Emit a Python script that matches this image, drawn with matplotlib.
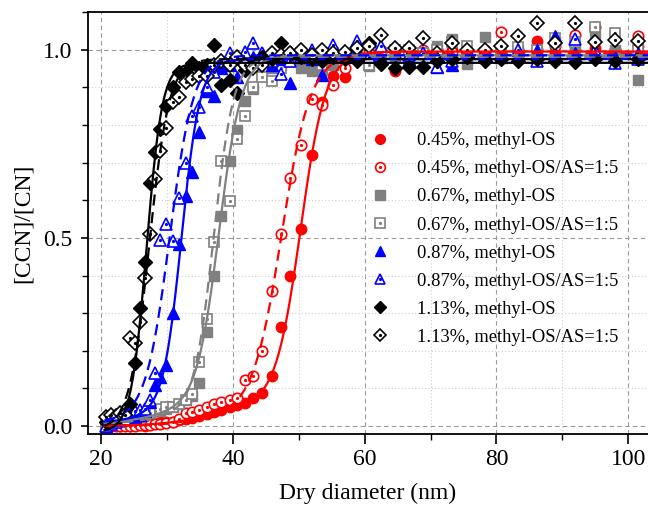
import matplotlib
matplotlib.use('Agg')
import matplotlib.pyplot as plt
from matplotlib.lines import Line2D
from matplotlib.legend_handler import HandlerTuple
from matplotlib.ticker import MultipleLocator, FormatStrFormatter
import numpy as np

plt.rcParams['font.family'] = ['Liberation Serif', 'DejaVu Serif']

# dry diameters of the scan (nm)
diameter = [20.8, 21.5, 22.2, 22.9, 23.6, 24.4, 25.2, 25.9, 26.7, 27.4,
            28.2, 29.0, 29.9, 30.9, 31.8, 32.8, 33.8, 34.9, 36.0, 37.1,
            38.2, 39.5, 40.6, 41.8, 43.1, 44.4, 45.9, 47.3, 48.7, 50.3,
            52.0, 53.5, 55.2, 57.0, 58.8, 60.6, 62.5, 64.6, 66.7, 68.8,
            70.9, 73.3, 75.6, 78.2, 80.7, 83.3, 86.1, 88.9, 91.9, 95.0,
            98.0, 101.5]

# activated fraction [CCN]/[CN]
red_os = [0.0, 0.0, 0.005, 0.0, 0.005, 0.0, 0.005, 0.005, 0.0, 0.005,
          0.008, 0.01, 0.01, 0.012, 0.015, 0.02, 0.022, 0.028, 0.032, 0.038,
          0.043, 0.05, 0.055, 0.061, 0.074, 0.087, 0.134, 0.263, 0.40, 0.523,
          0.719, 0.86, 0.929, 0.927, 0.985, 0.995, 1.0, 0.942, 1.0, 0.99,
          1.0, 1.0, 0.995, 1.0, 0.99, 1.0, 1.022, 0.99, 1.0, 1.005,
          1.0, 1.01]
red_as = [0.0, 0.0, 0.0, 0.0, 0.0, 0.0, 0.0, 0.002, 0.003, 0.003,
          0.005, 0.005, 0.008, 0.012, 0.02, 0.034, 0.038, 0.043, 0.05, 0.059,
          0.064, 0.069, 0.074, 0.122, 0.133, 0.2, 0.36, 0.51, 0.659, 0.747,
          0.869, 0.853, 0.906, 0.95, 0.975, 0.99, 0.995, 1.0, 0.99, 1.0,
          1.0, 0.995, 1.0, 0.995, 1.046, 1.0, 1.0, 1.01, 1.04, 1.06,
          1.0, 1.035]
gray_os = [0.005, 0.01, 0.01, 0.015, 0.015, 0.02, 0.02, 0.025, 0.03, 0.035,
           0.04, 0.04, 0.045, 0.05, 0.06, 0.069, 0.08, 0.115, 0.25, 0.40,
           0.557, 0.705, 0.787, 0.864, 0.895, 0.93, 0.95, 0.96, 0.97, 0.95,
           0.942, 0.947, 0.96, 0.98, 0.99, 0.957, 0.99, 0.98, 1.0, 0.99,
           1.01, 1.028, 0.963, 1.034, 0.99, 1.0, 0.99, 1.02, 1.0, 1.04,
           1.0, 0.92]
gray_as = [0.005, 0.005, 0.01, 0.01, 0.015, 0.02, 0.02, 0.025, 0.03, 0.035,
           0.04, 0.045, 0.05, 0.051, 0.06, 0.07, 0.085, 0.171, 0.285, 0.488,
           0.705, 0.597, 0.762, 0.825, 0.90, 0.927, 0.916, 0.95, 0.98, 0.99,
           0.975, 0.96, 0.99, 0.985, 1.0, 0.958, 0.99, 1.0, 1.0, 0.99,
           1.0, 1.02, 1.01, 0.99, 1.0, 1.007, 1.0, 1.03, 1.02, 1.06,
           1.044, 1.0]
blue_os = [0.0, 0.01, 0.015, 0.015, 0.02, 0.02, 0.025, 0.03, 0.04, 0.065,
           0.11, 0.13, 0.162, 0.30, 0.484, 0.61, 0.676, 0.78, 0.889, 0.878,
           0.95, 0.96, 0.927, 0.97, 0.98, 0.99, 0.96, 0.975, 0.911, 0.98,
           0.975, 0.933, 0.99, 0.98, 1.0, 0.985, 0.98, 0.99, 0.975, 0.99,
           0.955, 0.96, 1.0, 0.99, 0.98, 1.0, 1.0, 1.035, 0.99, 1.0,
           0.98, 0.99]
blue_as = [0.0, 0.005, 0.01, 0.015, 0.02, 0.038, 0.04, 0.043, 0.045, 0.07,
           0.142, 0.495, 0.537, 0.493, 0.606, 0.70, 0.824, 0.848, 0.90, 0.94,
           0.97, 0.99, 0.975, 0.995, 1.018, 0.99, 0.97, 0.936, 0.97, 0.98,
           1.0, 0.99, 1.013, 0.99, 1.022, 0.98, 1.009, 0.99, 0.985, 0.99,
           0.955, 0.97, 0.99, 1.0, 0.98, 1.0, 0.969, 0.99, 1.028, 1.0,
           0.965, 0.975]
black_os = [0.01, 0.02, 0.02, 0.025, 0.03, 0.058, 0.167, 0.315, 0.437, 0.645,
            0.727, 0.79, 0.851, 0.90, 0.94, 0.94, 0.965, 0.95, 0.96, 1.013,
            0.907, 0.92, 0.885, 0.947, 0.97, 0.98, 0.975, 1.018, 0.99, 0.98,
            0.975, 0.97, 0.98, 0.975, 0.969, 1.018, 0.963, 0.952, 0.955, 0.955,
            0.97, 0.975, 0.98, 0.97, 0.975, 0.97, 0.975, 0.97, 0.968, 0.975,
            0.97, 0.975]
black_as = [0.025, 0.03, 0.028, 0.035, 0.03, 0.233, 0.222, 0.277, 0.393, 0.51,
            0.656, 0.731, 0.793, 0.862, 0.873, 0.914, 0.922, 0.929, 0.931, 0.96,
            0.97, 0.96, 0.98, 0.96, 0.95, 0.96, 0.99, 0.985, 0.99, 1.0,
            0.985, 1.0, 0.99, 0.995, 1.005, 1.01, 1.04, 1.005, 1.005, 1.03,
            0.99, 1.018, 1.0, 1.0, 1.01, 1.035, 1.07, 1.018, 1.07, 1.02,
            1.025, 1.022]

labels = ['0.45%, methyl-OS', '0.45%, methyl-OS/AS=1:5',
          '0.67%, methyl-OS', '0.67%, methyl-OS/AS=1:5',
          '0.87%, methyl-OS', '0.87%, methyl-OS/AS=1:5',
          '1.13%, methyl-OS', '1.13%, methyl-OS/AS=1:5']
values = [red_os, red_as, gray_os, gray_as, blue_os, blue_as, black_os, black_as]
colors = ['#ff0000', '#ff0000', '#808080', '#808080',
          '#0000ff', '#0000ff', '#000000', '#000000']
markers = ['o', 'o', 's', 's', '^', '^', 'D', 'D']
filled = [True, False, True, False, True, False, True, False]
msize = {'o': 7.5, 's': 7, '^': 8, 'D': 7}

# sigmoid fit parameters
fit_d50 = [50.3, 47.4, 37.9, 37.1, 32.2, 30.4, 26.9, 27.3]
fit_width = [1.9, 2.2, 1.7, 1.5, 1.4, 1.8, 1.18, 1.5]
fit_top = [0.995, 0.99, 0.985, 0.98, 0.975, 0.985, 0.965, 0.975]
fit_base = [0.0, 0.0, 0.005, 0.005, 0.01, 0.01, -0.015, -0.01]
tail_amp = [0.06, 0.03, 0.05, 0.03, 0.02, 0.01, 0.0, 0.0]
tail_mid = [37, 34, 29, 28, 25, 24, 24, 24]
tail_width = [4, 3, 3.5, 3, 2, 2, 2, 2]


def sigmoid(d, mid, w):
    return 1.0 / (1.0 + np.exp(-(d - mid) / w))


fig = plt.figure(figsize=(6.48, 5.09), dpi=100)
ax = fig.add_axes([88/648, 1 - 434/509, 560/648, 422/509])

handles = []
for i in range(8):
    m = markers[i]
    if filled[i]:
        ax.plot(diameter, values[i], ls='none', marker=m, ms=msize[m],
                mfc=colors[i], mec=colors[i], zorder=3)
        handles.append(Line2D([], [], ls='none', marker=m, ms=msize[m] - 0.5,
                              mfc=colors[i], mec=colors[i]))
    else:
        ax.plot(diameter, values[i], ls='none', marker=m, ms=msize[m],
                mfc='white', mec=colors[i], mew=1.2, zorder=3)
        ax.plot(diameter, values[i], ls='none', marker='o', ms=1.3,
                mfc=colors[i], mec=colors[i], zorder=3)
        h1 = Line2D([], [], ls='none', marker=m, ms=msize[m] - 0.5,
                    mfc='white', mec=colors[i], mew=1.2)
        h2 = Line2D([], [], ls='none', marker='o', ms=1.3,
                    mfc=colors[i], mec=colors[i])
        handles.append((h1, h2))

dfit = np.linspace(20.5, 103, 400)
for i in range(8):
    s1 = sigmoid(dfit, fit_d50[i], fit_width[i])
    s2 = sigmoid(dfit, tail_mid[i], tail_width[i])
    y = fit_base[i] + (fit_top[i] - fit_base[i]) * s1 + tail_amp[i] * s2 * (1 - s1)
    ls = '-' if filled[i] else (0, (5, 3))
    ax.plot(dfit, y, color=colors[i], ls=ls, lw=1.6, zorder=4)

ax.set_xlim(18, 103)
ax.set_ylim(-0.021, 1.1)
ax.xaxis.set_major_locator(MultipleLocator(20))
ax.xaxis.set_minor_locator(MultipleLocator(10))
ax.yaxis.set_major_locator(MultipleLocator(0.5))
ax.yaxis.set_minor_locator(MultipleLocator(0.1))
ax.yaxis.set_major_formatter(FormatStrFormatter('%.1f'))

ax.set_axisbelow(True)
ax.grid(which='major', color='#9a9a9a', ls=(0, (4, 3)), lw=0.8)
ax.grid(which='minor', color='#cfcfcf', ls=(0, (1, 2)), lw=0.8)

ax.tick_params(axis='x', which='major', direction='out', length=7, width=1.2,
               labelsize=17, pad=4)
ax.tick_params(axis='y', which='major', direction='out', length=5, width=1.2,
               labelsize=17, pad=6)
ax.tick_params(which='minor', direction='out', length=4, width=1.0)
for sp in ['left', 'bottom', 'top']:
    ax.spines[sp].set_linewidth(1.3)
ax.spines['right'].set_visible(False)

ax.set_xlabel('Dry diameter (nm)', fontsize=17, labelpad=9)
ax.set_ylabel('[CCN]/[CN]', fontsize=17, labelpad=7)

ax.legend(handles, labels, handler_map={tuple: HandlerTuple(ndivide=1)},
          loc='upper left', bbox_to_anchor=(0.505, 0.715), frameon=False,
          fontsize=13.3, handlelength=1.0, handletextpad=1.5,
          labelspacing=0.6, borderpad=0, borderaxespad=0)

fig.savefig('out.png', dpi=100)
